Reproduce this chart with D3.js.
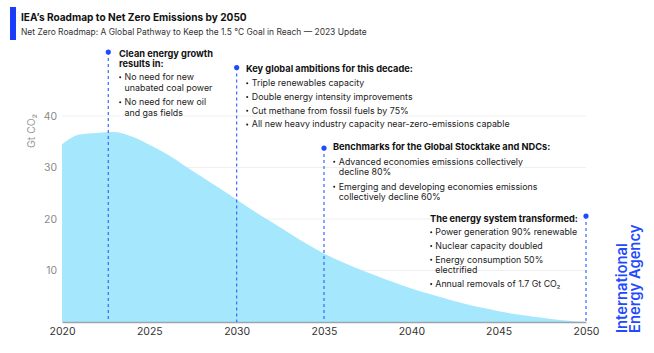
<!DOCTYPE html>
<html>
<head>
<meta charset="utf-8">
<script src="https://cdn.jsdelivr.net/npm/d3@7"></script>
<style>
  html, body { margin: 0; padding: 0; background: #fff; }
  svg { display: block; font-family: Inter, "Liberation Sans", Arial, sans-serif; }
</style>
</head>
<body>
<svg id="chart" width="654" height="353"></svg>
<script>
// ---- Data ----
const years = [2020,2021,2022,2023,2024,2025,2026,2027,2028,2029,2030,2031,2032,2033,2034,2035,2036,2037,2038,2039,2040,2041,2042,2043,2044,2045,2046,2047,2048,2049,2050];
const emissions = [34.5,36.4,36.7,36.9,36.0,34.4,32.6,30.4,28.2,26.0,23.8,21.5,19.4,17.3,15.2,13.3,11.7,10.3,9.0,7.7,6.5,5.5,4.5,3.6,2.8,2.1,1.5,1.0,0.6,0.25,0];
const xTicks = [2020,2025,2030,2035,2040,2045,2050];
const yTicks = [10,20,30,40];

const title = "IEA\u2019s Roadmap to Net Zero Emissions by 2050";
const subtitle = "Net Zero Roadmap: A Global Pathway to Keep the 1.5 \u00B0C Goal in Reach \u2014 2023 Update";
const yLabel = "Gt CO\u2082";
const brand = ["International", "Energy Agency"];

const annotationYears = [2022.65, 2030, 2035, 2050];
const annotationTitles = [
  ["Clean energy growth", "results in:"],
  ["Key global ambitions for this decade:"],
  ["Benchmarks for the Global Stocktake and NDCs:"],
  ["The energy system transformed:"]
];
const annotationBullets = [
  [["No need for new", "unabated coal power"], ["No need for new oil", "and gas fields"]],
  [["Triple renewables capacity"], ["Double energy intensity improvements"], ["Cut methane from fossil fuels by 75%"], ["All new heavy industry capacity near-zero-emissions capable"]],
  [["Advanced economies emissions collectively", "decline 80%"], ["Emerging and developing economies emissions", "collectively decline 60%"]],
  [["Power generation 90% renewable"], ["Nuclear capacity doubled"], ["Energy consumption 50%", "electrified"], ["Annual removals of 1.7 Gt CO\u2082"]]
];

// ---- Layout ----
const svg = d3.select("#chart");
const x = d3.scaleLinear().domain([2020, 2050]).range([62, 586]);
const y = d3.scaleLinear().domain([0, 40]).range([322, 116]);
const blue = "#1f4bff";
const FONT = "Inter, 'Liberation Sans', Arial, sans-serif";

// font-size fitting: size so that a sample string has a given width
function fit(sample, weight, target) {
  const t = svg.append("text").attr("font-size", 10).attr("font-weight", weight)
    .attr("font-family", FONT).text(sample);
  const w = t.node().getComputedTextLength();
  t.remove();
  return w > 0 ? 10 * target / w : 10;
}
const fsTitle = fit(title, 700, 226);
const fsSub = fit(subtitle, 400, 346);
const fsNoteB = fit("Key global ambitions for this decade:", 700, 167);
const fsNote = fit("All new heavy industry capacity near-zero-emissions capable", 400, 258);
const fsTick = fit("2020", 400, 26);
const fsBrand = fit("International", 600, 90);

// header
svg.append("rect").attr("x", 10).attr("y", 7).attr("width", 6).attr("height", 33).attr("fill", "#1a3dfb");
svg.append("text").attr("x", 21).attr("y", 21).attr("font-size", fsTitle).attr("font-weight", 700)
  .attr("fill", "#111").text(title);
svg.append("text").attr("x", 21).attr("y", 35).attr("font-size", fsSub)
  .attr("fill", "#333").text(subtitle);

// gridlines
svg.append("g").selectAll("line").data(yTicks).join("line")
  .attr("x1", 62).attr("x2", 586)
  .attr("y1", d => y(d)).attr("y2", d => y(d))
  .attr("stroke", "#efefef").attr("stroke-width", 1);

// area
const area = d3.area()
  .x((d, i) => x(years[i]))
  .y0(y(0))
  .y1(d => y(d))
  .curve(d3.curveMonotoneX);
svg.append("path").datum(emissions).attr("d", area).attr("fill", "#a5e7fd");

// y axis labels
const yAxis = d3.axisLeft(y).tickValues(yTicks).tickSize(0).tickPadding(0);
const gy = svg.append("g").attr("transform", "translate(57,0)").call(yAxis);
gy.select(".domain").remove();
gy.selectAll("text").attr("font-size", fsTick).attr("fill", "#8a8a8a").attr("font-family", FONT);

svg.append("text")
  .attr("transform", "translate(35,131) rotate(-90)")
  .attr("text-anchor", "middle").attr("font-size", fsTick).attr("fill", "#999")
  .text(yLabel);

// x axis
const xAxis = d3.axisBottom(x).tickValues(xTicks).tickFormat(d3.format("d")).tickSize(0).tickPadding(6);
const gx = svg.append("g").attr("transform", `translate(0,${y(0)})`).call(xAxis);
gx.select(".domain").attr("stroke", "#9aa5ad").attr("stroke-width", 1.5);
gx.selectAll("text").attr("font-size", fsTick).attr("fill", "#333").attr("font-family", FONT);

// annotations
const dotY = [52, 67.5, 148, 216];
const textX = [119, 246, 333, 430];
const indent = [5.5, 5.8, 5.8, 5.3];
const titleY = [56.5, 71.5, 150, 221.5];
const titleLH = 10.3;
const bulletStart = [80, 86, 164.5, 235];
const bulletLH = 10.5;
const bulletGap = [14.5, 13.8, 14.5, 13.8];

annotationYears.forEach((yr, i) => {
  const xx = x(yr);
  svg.append("line").attr("x1", xx).attr("x2", xx).attr("y1", dotY[i]).attr("y2", y(0))
    .attr("stroke", "#3a66ff").attr("stroke-width", 1.2).attr("stroke-dasharray", "3,3");
  svg.append("circle").attr("cx", xx).attr("cy", dotY[i]).attr("r", 2.6).attr("fill", blue);

  const g = svg.append("g");
  annotationTitles[i].forEach((t, j) => {
    g.append("text").attr("x", textX[i]).attr("y", titleY[i] + j * titleLH)
      .attr("font-size", fsNoteB).attr("font-weight", 700).attr("fill", "#111").text(t);
  });
  let yy = bulletStart[i];
  annotationBullets[i].forEach(lines => {
    g.append("circle").attr("cx", textX[i] + 1.2).attr("cy", yy - 2.8).attr("r", 1.05).attr("fill", "#222");
    lines.forEach((ln, k) => {
      g.append("text").attr("x", textX[i] + indent[i]).attr("y", yy + k * bulletLH)
        .attr("font-size", fsNote).attr("fill", "#222").text(ln);
    });
    yy += bulletGap[i] + (lines.length - 1) * bulletLH;
  });
});

// brand
brand.forEach((t, i) => {
  svg.append("text")
    .attr("transform", `translate(${626.5 + i * 13.5},333) rotate(-90)`)
    .attr("font-size", fsBrand).attr("font-weight", 600).attr("fill", blue).text(t);
});
</script>
</body>
</html>
